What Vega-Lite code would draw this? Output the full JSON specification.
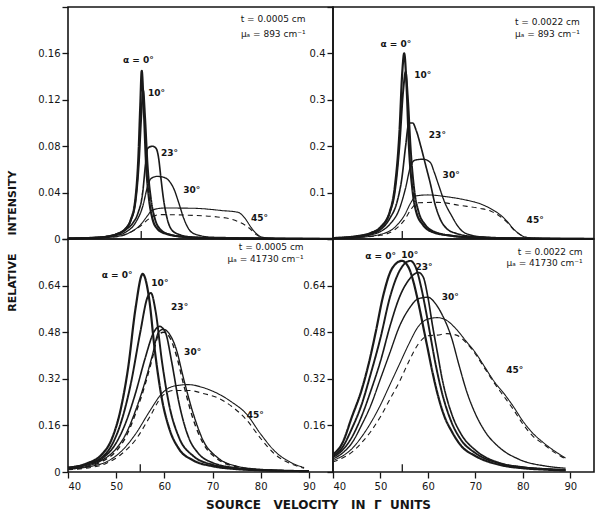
{
"$schema": "https://vega.github.io/schema/vega-lite/v6.json",
"padding": {"left": 5, "top": 1, "right": 2, "bottom": 3},
"background": "white",
"config": {
  "view": {"stroke": "#151515", "strokeWidth": 1.6},
  "axis": {"labelFont": "DejaVu Sans", "labelFontSize": 10, "labelColor": "#151515", "tickColor": "#151515", "tickWidth": 1.3, "tickSize": 6, "domain": false, "grid": false, "labelOverlap": false, "labelPadding": 2, "titleFont": "DejaVu Sans", "titleFontWeight": "bold", "titleFontSize": 11, "titleColor": "#151515"},
  "text": {"font": "DejaVu Sans", "color": "#151515"}
},
"title": {"text": "SOURCE\u00a0\u00a0 VELOCITY\u00a0\u00a0 IN\u00a0 Γ\u00a0 UNITS", "orient": "bottom", "anchor": "middle", "font": "DejaVu Sans", "fontSize": 12, "fontWeight": "bold", "color": "#151515", "offset": 8, "dx": 16},
"datasets": {
"curves": [
{"panel":"A","angle":"0","kind":"solid","v":40,"i":0.0005},{"panel":"A","angle":"0","kind":"solid","v":45,"i":0.001},{"panel":"A","angle":"0","kind":"solid","v":48,"i":0.002},{"panel":"A","angle":"0","kind":"solid","v":50,"i":0.004},{"panel":"A","angle":"0","kind":"solid","v":52,"i":0.009},{"panel":"A","angle":"0","kind":"solid","v":53,"i":0.016},{"panel":"A","angle":"0","kind":"solid","v":54,"i":0.035},{"panel":"A","angle":"0","kind":"solid","v":54.6,"i":0.07},{"panel":"A","angle":"0","kind":"solid","v":55,"i":0.115},{"panel":"A","angle":"0","kind":"solid","v":55.3,"i":0.145},{"panel":"A","angle":"0","kind":"solid","v":55.7,"i":0.115},{"panel":"A","angle":"0","kind":"solid","v":56.2,"i":0.065},{"panel":"A","angle":"0","kind":"solid","v":56.8,"i":0.035},{"panel":"A","angle":"0","kind":"solid","v":57.5,"i":0.018},{"panel":"A","angle":"0","kind":"solid","v":58.5,"i":0.009},{"panel":"A","angle":"0","kind":"solid","v":60,"i":0.005},{"panel":"A","angle":"0","kind":"solid","v":65,"i":0.0015},{"panel":"A","angle":"0","kind":"solid","v":70,"i":0.0008},{"panel":"A","angle":"0","kind":"solid","v":80,"i":0.0003},{"panel":"A","angle":"0","kind":"solid","v":95,"i":0.0001},
{"panel":"A","angle":"10","kind":"solid","v":40,"i":0.0005},{"panel":"A","angle":"10","kind":"solid","v":45,"i":0.001},{"panel":"A","angle":"10","kind":"solid","v":48,"i":0.002},{"panel":"A","angle":"10","kind":"solid","v":50,"i":0.004},{"panel":"A","angle":"10","kind":"solid","v":52,"i":0.009},{"panel":"A","angle":"10","kind":"solid","v":53,"i":0.016},{"panel":"A","angle":"10","kind":"solid","v":54,"i":0.032},{"panel":"A","angle":"10","kind":"solid","v":54.7,"i":0.065},{"panel":"A","angle":"10","kind":"solid","v":55.2,"i":0.105},{"panel":"A","angle":"10","kind":"solid","v":55.6,"i":0.128},{"panel":"A","angle":"10","kind":"solid","v":56,"i":0.105},{"panel":"A","angle":"10","kind":"solid","v":56.5,"i":0.065},{"panel":"A","angle":"10","kind":"solid","v":57.2,"i":0.035},{"panel":"A","angle":"10","kind":"solid","v":58,"i":0.018},{"panel":"A","angle":"10","kind":"solid","v":59,"i":0.009},{"panel":"A","angle":"10","kind":"solid","v":61,"i":0.004},{"panel":"A","angle":"10","kind":"solid","v":65,"i":0.0015},{"panel":"A","angle":"10","kind":"solid","v":70,"i":0.0008},{"panel":"A","angle":"10","kind":"solid","v":95,"i":0.0001},
{"panel":"A","angle":"23","kind":"solid","v":40,"i":0.0005},{"panel":"A","angle":"23","kind":"solid","v":45,"i":0.001},{"panel":"A","angle":"23","kind":"solid","v":48,"i":0.002},{"panel":"A","angle":"23","kind":"solid","v":50,"i":0.004},{"panel":"A","angle":"23","kind":"solid","v":52,"i":0.008},{"panel":"A","angle":"23","kind":"solid","v":53.5,"i":0.014},{"panel":"A","angle":"23","kind":"solid","v":54.5,"i":0.022},{"panel":"A","angle":"23","kind":"solid","v":55.5,"i":0.04},{"panel":"A","angle":"23","kind":"solid","v":56.1,"i":0.065},{"panel":"A","angle":"23","kind":"solid","v":56.5,"i":0.078},{"panel":"A","angle":"23","kind":"solid","v":57.5,"i":0.08},{"panel":"A","angle":"23","kind":"solid","v":58.3,"i":0.078},{"panel":"A","angle":"23","kind":"solid","v":58.8,"i":0.07},{"panel":"A","angle":"23","kind":"solid","v":59.3,"i":0.052},{"panel":"A","angle":"23","kind":"solid","v":59.8,"i":0.035},{"panel":"A","angle":"23","kind":"solid","v":60.5,"i":0.019},{"panel":"A","angle":"23","kind":"solid","v":61.5,"i":0.008},{"panel":"A","angle":"23","kind":"solid","v":63,"i":0.004},{"panel":"A","angle":"23","kind":"solid","v":66,"i":0.0015},{"panel":"A","angle":"23","kind":"solid","v":70,"i":0.0008},{"panel":"A","angle":"23","kind":"solid","v":95,"i":0.0001},
{"panel":"A","angle":"30","kind":"solid","v":40,"i":0.0005},{"panel":"A","angle":"30","kind":"solid","v":45,"i":0.001},{"panel":"A","angle":"30","kind":"solid","v":50,"i":0.003},{"panel":"A","angle":"30","kind":"solid","v":52,"i":0.006},{"panel":"A","angle":"30","kind":"solid","v":54,"i":0.014},{"panel":"A","angle":"30","kind":"solid","v":55.5,"i":0.028},{"panel":"A","angle":"30","kind":"solid","v":56.5,"i":0.045},{"panel":"A","angle":"30","kind":"solid","v":57.2,"i":0.052},{"panel":"A","angle":"30","kind":"solid","v":58.5,"i":0.054},{"panel":"A","angle":"30","kind":"solid","v":60,"i":0.053},{"panel":"A","angle":"30","kind":"solid","v":61,"i":0.05},{"panel":"A","angle":"30","kind":"solid","v":62,"i":0.043},{"panel":"A","angle":"30","kind":"solid","v":63,"i":0.031},{"panel":"A","angle":"30","kind":"solid","v":64,"i":0.018},{"panel":"A","angle":"30","kind":"solid","v":65,"i":0.009},{"panel":"A","angle":"30","kind":"solid","v":66.5,"i":0.004},{"panel":"A","angle":"30","kind":"solid","v":70,"i":0.0015},{"panel":"A","angle":"30","kind":"solid","v":95,"i":0.0002},
{"panel":"A","angle":"45","kind":"solid","v":40,"i":0.0003},{"panel":"A","angle":"45","kind":"solid","v":45,"i":0.0008},{"panel":"A","angle":"45","kind":"solid","v":50,"i":0.002},{"panel":"A","angle":"45","kind":"solid","v":53,"i":0.006},{"panel":"A","angle":"45","kind":"solid","v":55,"i":0.012},{"panel":"A","angle":"45","kind":"solid","v":56.5,"i":0.02},{"panel":"A","angle":"45","kind":"solid","v":57.5,"i":0.025},{"panel":"A","angle":"45","kind":"solid","v":60,"i":0.0267},{"panel":"A","angle":"45","kind":"solid","v":66,"i":0.0265},{"panel":"A","angle":"45","kind":"solid","v":72,"i":0.0245},{"panel":"A","angle":"45","kind":"solid","v":75.3,"i":0.023},{"panel":"A","angle":"45","kind":"solid","v":76.7,"i":0.018},{"panel":"A","angle":"45","kind":"solid","v":78,"i":0.01},{"panel":"A","angle":"45","kind":"solid","v":79,"i":0.005},{"panel":"A","angle":"45","kind":"solid","v":80,"i":0.002},{"panel":"A","angle":"45","kind":"solid","v":82,"i":0.0005},{"panel":"A","angle":"45","kind":"solid","v":95,"i":0.0001},
{"panel":"A","angle":"45","kind":"dashed","v":40,"i":0.0003},{"panel":"A","angle":"45","kind":"dashed","v":50,"i":0.002},{"panel":"A","angle":"45","kind":"dashed","v":55,"i":0.011},{"panel":"A","angle":"45","kind":"dashed","v":57,"i":0.018},{"panel":"A","angle":"45","kind":"dashed","v":59,"i":0.021},{"panel":"A","angle":"45","kind":"dashed","v":65,"i":0.0205},{"panel":"A","angle":"45","kind":"dashed","v":71,"i":0.019},{"panel":"A","angle":"45","kind":"dashed","v":74,"i":0.017},{"panel":"A","angle":"45","kind":"dashed","v":75.3,"i":0.015},{"panel":"A","angle":"45","kind":"dashed","v":76.7,"i":0.012},{"panel":"A","angle":"45","kind":"dashed","v":78,"i":0.008},{"panel":"A","angle":"45","kind":"dashed","v":79,"i":0.004},{"panel":"A","angle":"45","kind":"dashed","v":80,"i":0.0017},{"panel":"A","angle":"45","kind":"dashed","v":82,"i":0.0005},{"panel":"A","angle":"45","kind":"dashed","v":95,"i":0.0001},

{"panel":"B","angle":"0","kind":"solid","v":40,"i":0.002},{"panel":"B","angle":"0","kind":"solid","v":45,"i":0.006},{"panel":"B","angle":"0","kind":"solid","v":48,"i":0.013},{"panel":"B","angle":"0","kind":"solid","v":50,"i":0.025},{"panel":"B","angle":"0","kind":"solid","v":52,"i":0.06},{"panel":"B","angle":"0","kind":"solid","v":53,"i":0.11},{"panel":"B","angle":"0","kind":"solid","v":54,"i":0.23},{"panel":"B","angle":"0","kind":"solid","v":54.6,"i":0.36},{"panel":"B","angle":"0","kind":"solid","v":55,"i":0.4},{"panel":"B","angle":"0","kind":"solid","v":55.5,"i":0.33},{"panel":"B","angle":"0","kind":"solid","v":56,"i":0.2},{"panel":"B","angle":"0","kind":"solid","v":56.7,"i":0.11},{"panel":"B","angle":"0","kind":"solid","v":57.5,"i":0.06},{"panel":"B","angle":"0","kind":"solid","v":59,"i":0.03},{"panel":"B","angle":"0","kind":"solid","v":61,"i":0.015},{"panel":"B","angle":"0","kind":"solid","v":65,"i":0.007},{"panel":"B","angle":"0","kind":"solid","v":70,"i":0.003},{"panel":"B","angle":"0","kind":"solid","v":80,"i":0.001},{"panel":"B","angle":"0","kind":"solid","v":95,"i":0.0003},
{"panel":"B","angle":"10","kind":"solid","v":40,"i":0.002},{"panel":"B","angle":"10","kind":"solid","v":45,"i":0.006},{"panel":"B","angle":"10","kind":"solid","v":48,"i":0.013},{"panel":"B","angle":"10","kind":"solid","v":50,"i":0.025},{"panel":"B","angle":"10","kind":"solid","v":52,"i":0.058},{"panel":"B","angle":"10","kind":"solid","v":53,"i":0.1},{"panel":"B","angle":"10","kind":"solid","v":54,"i":0.2},{"panel":"B","angle":"10","kind":"solid","v":54.8,"i":0.32},{"panel":"B","angle":"10","kind":"solid","v":55.3,"i":0.36},{"panel":"B","angle":"10","kind":"solid","v":55.8,"i":0.3},{"panel":"B","angle":"10","kind":"solid","v":56.4,"i":0.19},{"panel":"B","angle":"10","kind":"solid","v":57.2,"i":0.1},{"panel":"B","angle":"10","kind":"solid","v":58,"i":0.06},{"panel":"B","angle":"10","kind":"solid","v":59.5,"i":0.03},{"panel":"B","angle":"10","kind":"solid","v":61.5,"i":0.015},{"panel":"B","angle":"10","kind":"solid","v":65,"i":0.007},{"panel":"B","angle":"10","kind":"solid","v":70,"i":0.003},{"panel":"B","angle":"10","kind":"solid","v":80,"i":0.001},{"panel":"B","angle":"10","kind":"solid","v":95,"i":0.0003},
{"panel":"B","angle":"23","kind":"solid","v":40,"i":0.002},{"panel":"B","angle":"23","kind":"solid","v":45,"i":0.005},{"panel":"B","angle":"23","kind":"solid","v":48,"i":0.011},{"panel":"B","angle":"23","kind":"solid","v":50,"i":0.02},{"panel":"B","angle":"23","kind":"solid","v":52,"i":0.045},{"panel":"B","angle":"23","kind":"solid","v":53.5,"i":0.08},{"panel":"B","angle":"23","kind":"solid","v":54.5,"i":0.13},{"panel":"B","angle":"23","kind":"solid","v":55.3,"i":0.2},{"panel":"B","angle":"23","kind":"solid","v":56,"i":0.25},{"panel":"B","angle":"23","kind":"solid","v":56.8,"i":0.25},{"panel":"B","angle":"23","kind":"solid","v":57.5,"i":0.235},{"panel":"B","angle":"23","kind":"solid","v":58.5,"i":0.2},{"panel":"B","angle":"23","kind":"solid","v":59.5,"i":0.16},{"panel":"B","angle":"23","kind":"solid","v":60.5,"i":0.12},{"panel":"B","angle":"23","kind":"solid","v":61.5,"i":0.075},{"panel":"B","angle":"23","kind":"solid","v":62.5,"i":0.045},{"panel":"B","angle":"23","kind":"solid","v":64,"i":0.022},{"panel":"B","angle":"23","kind":"solid","v":66,"i":0.012},{"panel":"B","angle":"23","kind":"solid","v":70,"i":0.005},{"panel":"B","angle":"23","kind":"solid","v":80,"i":0.0015},{"panel":"B","angle":"23","kind":"solid","v":95,"i":0.0003},
{"panel":"B","angle":"30","kind":"solid","v":40,"i":0.0015},{"panel":"B","angle":"30","kind":"solid","v":45,"i":0.004},{"panel":"B","angle":"30","kind":"solid","v":48,"i":0.009},{"panel":"B","angle":"30","kind":"solid","v":50,"i":0.016},{"panel":"B","angle":"30","kind":"solid","v":52,"i":0.032},{"panel":"B","angle":"30","kind":"solid","v":54,"i":0.065},{"panel":"B","angle":"30","kind":"solid","v":55.3,"i":0.11},{"panel":"B","angle":"30","kind":"solid","v":56.3,"i":0.155},{"panel":"B","angle":"30","kind":"solid","v":57.3,"i":0.17},{"panel":"B","angle":"30","kind":"solid","v":59,"i":0.172},{"panel":"B","angle":"30","kind":"solid","v":60.5,"i":0.165},{"panel":"B","angle":"30","kind":"solid","v":61.3,"i":0.145},{"panel":"B","angle":"30","kind":"solid","v":62.3,"i":0.115},{"panel":"B","angle":"30","kind":"solid","v":63.5,"i":0.08},{"panel":"B","angle":"30","kind":"solid","v":65,"i":0.05},{"panel":"B","angle":"30","kind":"solid","v":66.5,"i":0.025},{"panel":"B","angle":"30","kind":"solid","v":68,"i":0.012},{"panel":"B","angle":"30","kind":"solid","v":72,"i":0.004},{"panel":"B","angle":"30","kind":"solid","v":80,"i":0.001},{"panel":"B","angle":"30","kind":"solid","v":95,"i":0.0003},
{"panel":"B","angle":"45","kind":"solid","v":40,"i":0.001},{"panel":"B","angle":"45","kind":"solid","v":45,"i":0.003},{"panel":"B","angle":"45","kind":"solid","v":50,"i":0.01},{"panel":"B","angle":"45","kind":"solid","v":53,"i":0.025},{"panel":"B","angle":"45","kind":"solid","v":55,"i":0.05},{"panel":"B","angle":"45","kind":"solid","v":56.5,"i":0.08},{"panel":"B","angle":"45","kind":"solid","v":57.5,"i":0.093},{"panel":"B","angle":"45","kind":"solid","v":60,"i":0.095},{"panel":"B","angle":"45","kind":"solid","v":64,"i":0.091},{"panel":"B","angle":"45","kind":"solid","v":68,"i":0.084},{"panel":"B","angle":"45","kind":"solid","v":71,"i":0.076},{"panel":"B","angle":"45","kind":"solid","v":73.3,"i":0.065},{"panel":"B","angle":"45","kind":"solid","v":75,"i":0.054},{"panel":"B","angle":"45","kind":"solid","v":76.7,"i":0.038},{"panel":"B","angle":"45","kind":"solid","v":78,"i":0.022},{"panel":"B","angle":"45","kind":"solid","v":79.5,"i":0.009},{"panel":"B","angle":"45","kind":"solid","v":81,"i":0.003},{"panel":"B","angle":"45","kind":"solid","v":85,"i":0.001},{"panel":"B","angle":"45","kind":"solid","v":95,"i":0.0003},
{"panel":"B","angle":"45","kind":"dashed","v":40,"i":0.001},{"panel":"B","angle":"45","kind":"dashed","v":50,"i":0.008},{"panel":"B","angle":"45","kind":"dashed","v":53,"i":0.02},{"panel":"B","angle":"45","kind":"dashed","v":55,"i":0.04},{"panel":"B","angle":"45","kind":"dashed","v":56.5,"i":0.065},{"panel":"B","angle":"45","kind":"dashed","v":58,"i":0.078},{"panel":"B","angle":"45","kind":"dashed","v":62,"i":0.079},{"panel":"B","angle":"45","kind":"dashed","v":67,"i":0.072},{"panel":"B","angle":"45","kind":"dashed","v":71,"i":0.066},{"panel":"B","angle":"45","kind":"dashed","v":73.3,"i":0.06},{"panel":"B","angle":"45","kind":"dashed","v":75,"i":0.05},{"panel":"B","angle":"45","kind":"dashed","v":76.7,"i":0.036},{"panel":"B","angle":"45","kind":"dashed","v":78,"i":0.021},{"panel":"B","angle":"45","kind":"dashed","v":79.5,"i":0.009},{"panel":"B","angle":"45","kind":"dashed","v":81,"i":0.003},{"panel":"B","angle":"45","kind":"dashed","v":85,"i":0.001},{"panel":"B","angle":"45","kind":"dashed","v":95,"i":0.0003},

{"panel":"C","angle":"0","kind":"solid","v":40,"i":0.015},{"panel":"C","angle":"0","kind":"solid","v":44,"i":0.03},{"panel":"C","angle":"0","kind":"solid","v":47,"i":0.06},{"panel":"C","angle":"0","kind":"solid","v":49,"i":0.11},{"panel":"C","angle":"0","kind":"solid","v":51,"i":0.22},{"panel":"C","angle":"0","kind":"solid","v":52.5,"i":0.36},{"panel":"C","angle":"0","kind":"solid","v":54,"i":0.56},{"panel":"C","angle":"0","kind":"solid","v":55.5,"i":0.68},{"panel":"C","angle":"0","kind":"solid","v":56.8,"i":0.6},{"panel":"C","angle":"0","kind":"solid","v":58,"i":0.42},{"panel":"C","angle":"0","kind":"solid","v":59.5,"i":0.25},{"panel":"C","angle":"0","kind":"solid","v":61,"i":0.15},{"panel":"C","angle":"0","kind":"solid","v":63,"i":0.08},{"panel":"C","angle":"0","kind":"solid","v":66,"i":0.04},{"panel":"C","angle":"0","kind":"solid","v":70,"i":0.02},{"panel":"C","angle":"0","kind":"solid","v":75,"i":0.01},{"panel":"C","angle":"0","kind":"solid","v":80,"i":0.006},{"panel":"C","angle":"0","kind":"solid","v":90,"i":0.003},
{"panel":"C","angle":"10","kind":"solid","v":40,"i":0.015},{"panel":"C","angle":"10","kind":"solid","v":44,"i":0.028},{"panel":"C","angle":"10","kind":"solid","v":47,"i":0.05},{"panel":"C","angle":"10","kind":"solid","v":49,"i":0.09},{"panel":"C","angle":"10","kind":"solid","v":51,"i":0.17},{"panel":"C","angle":"10","kind":"solid","v":53,"i":0.3},{"panel":"C","angle":"10","kind":"solid","v":55,"i":0.48},{"panel":"C","angle":"10","kind":"solid","v":56.5,"i":0.6},{"panel":"C","angle":"10","kind":"solid","v":57.2,"i":0.615},{"panel":"C","angle":"10","kind":"solid","v":58.2,"i":0.55},{"panel":"C","angle":"10","kind":"solid","v":59.5,"i":0.38},{"panel":"C","angle":"10","kind":"solid","v":61,"i":0.23},{"panel":"C","angle":"10","kind":"solid","v":63,"i":0.12},{"panel":"C","angle":"10","kind":"solid","v":66,"i":0.055},{"panel":"C","angle":"10","kind":"solid","v":70,"i":0.025},{"panel":"C","angle":"10","kind":"solid","v":75,"i":0.012},{"panel":"C","angle":"10","kind":"solid","v":80,"i":0.006},{"panel":"C","angle":"10","kind":"solid","v":90,"i":0.003},
{"panel":"C","angle":"23","kind":"solid","v":40,"i":0.012},{"panel":"C","angle":"23","kind":"solid","v":44,"i":0.024},{"panel":"C","angle":"23","kind":"solid","v":47,"i":0.045},{"panel":"C","angle":"23","kind":"solid","v":50,"i":0.1},{"panel":"C","angle":"23","kind":"solid","v":52,"i":0.17},{"panel":"C","angle":"23","kind":"solid","v":54,"i":0.27},{"panel":"C","angle":"23","kind":"solid","v":56,"i":0.39},{"panel":"C","angle":"23","kind":"solid","v":57.8,"i":0.48},{"panel":"C","angle":"23","kind":"solid","v":59,"i":0.5},{"panel":"C","angle":"23","kind":"solid","v":60.2,"i":0.48},{"panel":"C","angle":"23","kind":"solid","v":61.5,"i":0.38},{"panel":"C","angle":"23","kind":"solid","v":63,"i":0.24},{"panel":"C","angle":"23","kind":"solid","v":65,"i":0.12},{"panel":"C","angle":"23","kind":"solid","v":67,"i":0.065},{"panel":"C","angle":"23","kind":"solid","v":70,"i":0.032},{"panel":"C","angle":"23","kind":"solid","v":75,"i":0.014},{"panel":"C","angle":"23","kind":"solid","v":80,"i":0.007},{"panel":"C","angle":"23","kind":"solid","v":90,"i":0.003},
{"panel":"C","angle":"30","kind":"solid","v":40,"i":0.01},{"panel":"C","angle":"30","kind":"solid","v":44,"i":0.02},{"panel":"C","angle":"30","kind":"solid","v":47,"i":0.04},{"panel":"C","angle":"30","kind":"solid","v":50,"i":0.08},{"panel":"C","angle":"30","kind":"solid","v":52,"i":0.13},{"panel":"C","angle":"30","kind":"solid","v":54,"i":0.21},{"panel":"C","angle":"30","kind":"solid","v":56,"i":0.31},{"panel":"C","angle":"30","kind":"solid","v":57.5,"i":0.4},{"panel":"C","angle":"30","kind":"solid","v":58.8,"i":0.48},{"panel":"C","angle":"30","kind":"solid","v":59.8,"i":0.49},{"panel":"C","angle":"30","kind":"solid","v":61,"i":0.475},{"panel":"C","angle":"30","kind":"solid","v":62.5,"i":0.42},{"panel":"C","angle":"30","kind":"solid","v":64,"i":0.32},{"panel":"C","angle":"30","kind":"solid","v":66,"i":0.2},{"panel":"C","angle":"30","kind":"solid","v":68,"i":0.11},{"panel":"C","angle":"30","kind":"solid","v":71,"i":0.05},{"panel":"C","angle":"30","kind":"solid","v":75,"i":0.02},{"panel":"C","angle":"30","kind":"solid","v":80,"i":0.009},{"panel":"C","angle":"30","kind":"solid","v":90,"i":0.003},
{"panel":"C","angle":"30","kind":"dashed","v":40,"i":0.009},{"panel":"C","angle":"30","kind":"dashed","v":44,"i":0.018},{"panel":"C","angle":"30","kind":"dashed","v":47,"i":0.036},{"panel":"C","angle":"30","kind":"dashed","v":50,"i":0.072},{"panel":"C","angle":"30","kind":"dashed","v":52,"i":0.12},{"panel":"C","angle":"30","kind":"dashed","v":54,"i":0.2},{"panel":"C","angle":"30","kind":"dashed","v":56,"i":0.3},{"panel":"C","angle":"30","kind":"dashed","v":57.5,"i":0.39},{"panel":"C","angle":"30","kind":"dashed","v":58.8,"i":0.47},{"panel":"C","angle":"30","kind":"dashed","v":59.8,"i":0.48},{"panel":"C","angle":"30","kind":"dashed","v":61,"i":0.465},{"panel":"C","angle":"30","kind":"dashed","v":62.5,"i":0.4},{"panel":"C","angle":"30","kind":"dashed","v":64,"i":0.3},{"panel":"C","angle":"30","kind":"dashed","v":66,"i":0.18},{"panel":"C","angle":"30","kind":"dashed","v":68,"i":0.1},{"panel":"C","angle":"30","kind":"dashed","v":71,"i":0.045},{"panel":"C","angle":"30","kind":"dashed","v":75,"i":0.018},{"panel":"C","angle":"30","kind":"dashed","v":80,"i":0.008},{"panel":"C","angle":"30","kind":"dashed","v":90,"i":0.003},
{"panel":"C","angle":"45","kind":"solid","v":40,"i":0.01},{"panel":"C","angle":"45","kind":"solid","v":45,"i":0.02},{"panel":"C","angle":"45","kind":"solid","v":48,"i":0.035},{"panel":"C","angle":"45","kind":"solid","v":51,"i":0.07},{"panel":"C","angle":"45","kind":"solid","v":54,"i":0.13},{"panel":"C","angle":"45","kind":"solid","v":57,"i":0.21},{"panel":"C","angle":"45","kind":"solid","v":59.5,"i":0.27},{"panel":"C","angle":"45","kind":"solid","v":62,"i":0.295},{"panel":"C","angle":"45","kind":"solid","v":65,"i":0.3},{"panel":"C","angle":"45","kind":"solid","v":68,"i":0.29},{"panel":"C","angle":"45","kind":"solid","v":71,"i":0.27},{"panel":"C","angle":"45","kind":"solid","v":74,"i":0.24},{"panel":"C","angle":"45","kind":"solid","v":77,"i":0.2},{"panel":"C","angle":"45","kind":"solid","v":80,"i":0.13},{"panel":"C","angle":"45","kind":"solid","v":83,"i":0.07},{"panel":"C","angle":"45","kind":"solid","v":86,"i":0.035},{"panel":"C","angle":"45","kind":"solid","v":89,"i":0.015},
{"panel":"C","angle":"45","kind":"dashed","v":40,"i":0.008},{"panel":"C","angle":"45","kind":"dashed","v":45,"i":0.016},{"panel":"C","angle":"45","kind":"dashed","v":48,"i":0.03},{"panel":"C","angle":"45","kind":"dashed","v":51,"i":0.06},{"panel":"C","angle":"45","kind":"dashed","v":54,"i":0.11},{"panel":"C","angle":"45","kind":"dashed","v":57,"i":0.19},{"panel":"C","angle":"45","kind":"dashed","v":59.5,"i":0.26},{"panel":"C","angle":"45","kind":"dashed","v":62,"i":0.28},{"panel":"C","angle":"45","kind":"dashed","v":65,"i":0.28},{"panel":"C","angle":"45","kind":"dashed","v":68,"i":0.27},{"panel":"C","angle":"45","kind":"dashed","v":71,"i":0.255},{"panel":"C","angle":"45","kind":"dashed","v":74,"i":0.225},{"panel":"C","angle":"45","kind":"dashed","v":77,"i":0.18},{"panel":"C","angle":"45","kind":"dashed","v":80,"i":0.115},{"panel":"C","angle":"45","kind":"dashed","v":83,"i":0.06},{"panel":"C","angle":"45","kind":"dashed","v":86,"i":0.03},{"panel":"C","angle":"45","kind":"dashed","v":89,"i":0.013},

{"panel":"D","angle":"0","kind":"solid","v":40,"i":0.06},{"panel":"D","angle":"0","kind":"solid","v":42,"i":0.1},{"panel":"D","angle":"0","kind":"solid","v":44,"i":0.19},{"panel":"D","angle":"0","kind":"solid","v":46,"i":0.28},{"panel":"D","angle":"0","kind":"solid","v":47.5,"i":0.37},{"panel":"D","angle":"0","kind":"solid","v":49,"i":0.48},{"panel":"D","angle":"0","kind":"solid","v":50.5,"i":0.6},{"panel":"D","angle":"0","kind":"solid","v":52.5,"i":0.7},{"panel":"D","angle":"0","kind":"solid","v":54.5,"i":0.725},{"panel":"D","angle":"0","kind":"solid","v":56,"i":0.7},{"panel":"D","angle":"0","kind":"solid","v":57,"i":0.65},{"panel":"D","angle":"0","kind":"solid","v":58,"i":0.58},{"panel":"D","angle":"0","kind":"solid","v":59,"i":0.5},{"panel":"D","angle":"0","kind":"solid","v":60,"i":0.42},{"panel":"D","angle":"0","kind":"solid","v":61,"i":0.34},{"panel":"D","angle":"0","kind":"solid","v":62,"i":0.27},{"panel":"D","angle":"0","kind":"solid","v":63.5,"i":0.19},{"panel":"D","angle":"0","kind":"solid","v":65,"i":0.14},{"panel":"D","angle":"0","kind":"solid","v":67,"i":0.09},{"panel":"D","angle":"0","kind":"solid","v":70,"i":0.055},{"panel":"D","angle":"0","kind":"solid","v":75,"i":0.025},{"panel":"D","angle":"0","kind":"solid","v":80,"i":0.013},{"panel":"D","angle":"0","kind":"solid","v":85,"i":0.008},{"panel":"D","angle":"0","kind":"solid","v":89,"i":0.005},
{"panel":"D","angle":"10","kind":"solid","v":40,"i":0.055},{"panel":"D","angle":"10","kind":"solid","v":42,"i":0.085},{"panel":"D","angle":"10","kind":"solid","v":44,"i":0.15},{"panel":"D","angle":"10","kind":"solid","v":46,"i":0.23},{"panel":"D","angle":"10","kind":"solid","v":48,"i":0.34},{"panel":"D","angle":"10","kind":"solid","v":50,"i":0.46},{"panel":"D","angle":"10","kind":"solid","v":52,"i":0.6},{"panel":"D","angle":"10","kind":"solid","v":54,"i":0.69},{"panel":"D","angle":"10","kind":"solid","v":56.3,"i":0.725},{"panel":"D","angle":"10","kind":"solid","v":57.5,"i":0.7},{"panel":"D","angle":"10","kind":"solid","v":58.5,"i":0.64},{"panel":"D","angle":"10","kind":"solid","v":59.5,"i":0.56},{"panel":"D","angle":"10","kind":"solid","v":60.5,"i":0.47},{"panel":"D","angle":"10","kind":"solid","v":61.5,"i":0.38},{"panel":"D","angle":"10","kind":"solid","v":63,"i":0.27},{"panel":"D","angle":"10","kind":"solid","v":65,"i":0.17},{"panel":"D","angle":"10","kind":"solid","v":67,"i":0.11},{"panel":"D","angle":"10","kind":"solid","v":70,"i":0.065},{"panel":"D","angle":"10","kind":"solid","v":75,"i":0.03},{"panel":"D","angle":"10","kind":"solid","v":80,"i":0.016},{"panel":"D","angle":"10","kind":"solid","v":85,"i":0.01},{"panel":"D","angle":"10","kind":"solid","v":89,"i":0.007},
{"panel":"D","angle":"23","kind":"solid","v":40,"i":0.05},{"panel":"D","angle":"23","kind":"solid","v":42,"i":0.075},{"panel":"D","angle":"23","kind":"solid","v":44,"i":0.12},{"panel":"D","angle":"23","kind":"solid","v":46,"i":0.19},{"panel":"D","angle":"23","kind":"solid","v":48,"i":0.28},{"panel":"D","angle":"23","kind":"solid","v":50,"i":0.38},{"panel":"D","angle":"23","kind":"solid","v":52,"i":0.5},{"panel":"D","angle":"23","kind":"solid","v":54,"i":0.6},{"panel":"D","angle":"23","kind":"solid","v":56,"i":0.66},{"panel":"D","angle":"23","kind":"solid","v":58,"i":0.685},{"panel":"D","angle":"23","kind":"solid","v":59,"i":0.67},{"panel":"D","angle":"23","kind":"solid","v":60,"i":0.6},{"panel":"D","angle":"23","kind":"solid","v":61,"i":0.5},{"panel":"D","angle":"23","kind":"solid","v":62,"i":0.41},{"panel":"D","angle":"23","kind":"solid","v":63,"i":0.32},{"panel":"D","angle":"23","kind":"solid","v":65,"i":0.2},{"panel":"D","angle":"23","kind":"solid","v":67,"i":0.13},{"panel":"D","angle":"23","kind":"solid","v":70,"i":0.075},{"panel":"D","angle":"23","kind":"solid","v":75,"i":0.032},{"panel":"D","angle":"23","kind":"solid","v":80,"i":0.017},{"panel":"D","angle":"23","kind":"solid","v":85,"i":0.01},{"panel":"D","angle":"23","kind":"solid","v":89,"i":0.007},
{"panel":"D","angle":"30","kind":"solid","v":40,"i":0.045},{"panel":"D","angle":"30","kind":"solid","v":42,"i":0.065},{"panel":"D","angle":"30","kind":"solid","v":44,"i":0.1},{"panel":"D","angle":"30","kind":"solid","v":46,"i":0.16},{"panel":"D","angle":"30","kind":"solid","v":48,"i":0.23},{"panel":"D","angle":"30","kind":"solid","v":50,"i":0.32},{"panel":"D","angle":"30","kind":"solid","v":52,"i":0.41},{"panel":"D","angle":"30","kind":"solid","v":54,"i":0.5},{"panel":"D","angle":"30","kind":"solid","v":56,"i":0.56},{"panel":"D","angle":"30","kind":"solid","v":58,"i":0.595},{"panel":"D","angle":"30","kind":"solid","v":60,"i":0.6},{"panel":"D","angle":"30","kind":"solid","v":61.5,"i":0.58},{"panel":"D","angle":"30","kind":"solid","v":63,"i":0.54},{"panel":"D","angle":"30","kind":"solid","v":65,"i":0.46},{"panel":"D","angle":"30","kind":"solid","v":66.5,"i":0.37},{"panel":"D","angle":"30","kind":"solid","v":68.3,"i":0.27},{"panel":"D","angle":"30","kind":"solid","v":70,"i":0.2},{"panel":"D","angle":"30","kind":"solid","v":72,"i":0.14},{"panel":"D","angle":"30","kind":"solid","v":75,"i":0.085},{"panel":"D","angle":"30","kind":"solid","v":79,"i":0.045},{"panel":"D","angle":"30","kind":"solid","v":85,"i":0.02},{"panel":"D","angle":"30","kind":"solid","v":89,"i":0.013},
{"panel":"D","angle":"45","kind":"solid","v":40,"i":0.04},{"panel":"D","angle":"45","kind":"solid","v":42,"i":0.055},{"panel":"D","angle":"45","kind":"solid","v":44,"i":0.08},{"panel":"D","angle":"45","kind":"solid","v":46,"i":0.12},{"panel":"D","angle":"45","kind":"solid","v":48,"i":0.17},{"panel":"D","angle":"45","kind":"solid","v":50,"i":0.23},{"panel":"D","angle":"45","kind":"solid","v":52,"i":0.3},{"panel":"D","angle":"45","kind":"solid","v":54,"i":0.37},{"panel":"D","angle":"45","kind":"solid","v":56,"i":0.44},{"panel":"D","angle":"45","kind":"solid","v":58,"i":0.5},{"panel":"D","angle":"45","kind":"solid","v":60,"i":0.525},{"panel":"D","angle":"45","kind":"solid","v":62,"i":0.53},{"panel":"D","angle":"45","kind":"solid","v":64,"i":0.52},{"panel":"D","angle":"45","kind":"solid","v":66,"i":0.49},{"panel":"D","angle":"45","kind":"solid","v":68,"i":0.45},{"panel":"D","angle":"45","kind":"solid","v":70,"i":0.41},{"panel":"D","angle":"45","kind":"solid","v":72,"i":0.36},{"panel":"D","angle":"45","kind":"solid","v":74,"i":0.31},{"panel":"D","angle":"45","kind":"solid","v":76,"i":0.27},{"panel":"D","angle":"45","kind":"solid","v":78,"i":0.225},{"panel":"D","angle":"45","kind":"solid","v":80,"i":0.175},{"panel":"D","angle":"45","kind":"solid","v":82,"i":0.135},{"panel":"D","angle":"45","kind":"solid","v":84.4,"i":0.1},{"panel":"D","angle":"45","kind":"solid","v":86,"i":0.08},{"panel":"D","angle":"45","kind":"solid","v":89,"i":0.048},
{"panel":"D","angle":"45","kind":"dashed","v":40,"i":0.035},{"panel":"D","angle":"45","kind":"dashed","v":42,"i":0.048},{"panel":"D","angle":"45","kind":"dashed","v":44,"i":0.068},{"panel":"D","angle":"45","kind":"dashed","v":46,"i":0.1},{"panel":"D","angle":"45","kind":"dashed","v":48,"i":0.14},{"panel":"D","angle":"45","kind":"dashed","v":50,"i":0.19},{"panel":"D","angle":"45","kind":"dashed","v":52,"i":0.25},{"panel":"D","angle":"45","kind":"dashed","v":54,"i":0.31},{"panel":"D","angle":"45","kind":"dashed","v":56,"i":0.38},{"panel":"D","angle":"45","kind":"dashed","v":58,"i":0.44},{"panel":"D","angle":"45","kind":"dashed","v":60,"i":0.468},{"panel":"D","angle":"45","kind":"dashed","v":62,"i":0.47},{"panel":"D","angle":"45","kind":"dashed","v":64,"i":0.475},{"panel":"D","angle":"45","kind":"dashed","v":66,"i":0.47},{"panel":"D","angle":"45","kind":"dashed","v":68,"i":0.445},{"panel":"D","angle":"45","kind":"dashed","v":70,"i":0.405},{"panel":"D","angle":"45","kind":"dashed","v":72,"i":0.355},{"panel":"D","angle":"45","kind":"dashed","v":74,"i":0.305},{"panel":"D","angle":"45","kind":"dashed","v":76,"i":0.26},{"panel":"D","angle":"45","kind":"dashed","v":78,"i":0.215},{"panel":"D","angle":"45","kind":"dashed","v":80,"i":0.165},{"panel":"D","angle":"45","kind":"dashed","v":82,"i":0.125},{"panel":"D","angle":"45","kind":"dashed","v":84.4,"i":0.095},{"panel":"D","angle":"45","kind":"dashed","v":86,"i":0.075},{"panel":"D","angle":"45","kind":"dashed","v":89,"i":0.045}
],
"markers": [
{"panel":"A","v":55.2,"i0":0,"i1":0.007},
{"panel":"B","v":54.6,"i0":0,"i1":0.017},
{"panel":"C","v":55,"i0":0,"i1":0.027},
{"panel":"D","v":54.6,"i0":0,"i1":0.027}
],
"labels": [
{"panel":"A","v":51.4,"i":0.154,"text":"α = 0°"},{"panel":"A","v":56.6,"i":0.126,"text":"10°"},{"panel":"A","v":59.3,"i":0.074,"text":"23°"},{"panel":"A","v":63.9,"i":0.042,"text":"30°"},{"panel":"A","v":78,"i":0.018,"text":"45°"},
{"panel":"B","v":50,"i":0.42,"text":"α = 0°"},{"panel":"B","v":57.1,"i":0.353,"text":"10°"},{"panel":"B","v":60.2,"i":0.224,"text":"23°"},{"panel":"B","v":63.1,"i":0.138,"text":"30°"},{"panel":"B","v":80.8,"i":0.041,"text":"45°"},
{"panel":"C","v":47,"i":0.676,"text":"α = 0°"},{"panel":"C","v":57.3,"i":0.65,"text":"10°"},{"panel":"C","v":61.4,"i":0.567,"text":"23°"},{"panel":"C","v":64.1,"i":0.412,"text":"30°"},{"panel":"C","v":77.1,"i":0.196,"text":"45°"},
{"panel":"D","v":46.8,"i":0.74,"text":"α = 0°"},{"panel":"D","v":54.4,"i":0.745,"text":"10°"},{"panel":"D","v":57.4,"i":0.704,"text":"23°"},{"panel":"D","v":62.9,"i":0.6,"text":"30°"},{"panel":"D","v":76.5,"i":0.35,"text":"45°"}
],
"notes": [
{"panel":"A","v":89.3,"i":0.19,"text":"t = 0.0005 cm"},{"panel":"A","v":89.3,"i":0.177,"text":"μₐ = 893 cm⁻¹"},
{"panel":"B","v":92,"i":0.468,"text":"t = 0.0022 cm"},{"panel":"B","v":92,"i":0.442,"text":"μₐ = 893 cm⁻¹"},
{"panel":"C","v":88.9,"i":0.773,"text":"t = 0.0005 cm"},{"panel":"C","v":88.9,"i":0.733,"text":"μₐ = 41730 cm⁻¹"},
{"panel":"D","v":92.6,"i":0.757,"text":"t = 0.0022 cm"},{"panel":"D","v":92.6,"i":0.717,"text":"μₐ = 41730 cm⁻¹"}
]
},
"columns": 2,
"spacing": 0,
"bounds": "flush",
"resolve": {"scale": {"x": "independent", "y": "independent"}},
"concat": [
{"width": 265, "height": 232,
 "layer": [
  {"data": {"name": "curves"}, "transform": [{"filter": "datum.panel == 'A'"}],
   "mark": {"type": "line", "interpolate": "monotone", "color": "#1a1a1a"},
   "encoding": {
    "x": {"field": "v", "type": "quantitative", "scale": {"domain": [40, 95], "nice": false}, "axis": null},
    "y": {"field": "i", "type": "quantitative", "scale": {"domain": [0, 0.2], "nice": false},
          "axis": {"values": [0,0.02,0.04,0.06,0.08,0.1,0.12,0.14,0.16,0.18,0.2], "labelExpr": "datum.value < 0.19 && abs(datum.value/0.04 - round(datum.value/0.04)) < 0.01 ? (datum.value == 0 ? '0' : format(datum.value, '.2f')) : ''", "title": "INTENSITY", "titleAnchor": "start", "titleAlign": "left", "titleY": 228, "titlePadding": 20}},
    "strokeWidth": {"field": "angle", "type": "nominal", "scale": {"domain": ["0","10","23","30","45"], "range": [2.2,1.1,1.5,1.2,1.2]}, "legend": null},
    "strokeDash": {"field": "kind", "type": "nominal", "scale": {"domain": ["solid","dashed"], "range": [[1,0],[5,4]]}, "legend": null},
    "order": {"field": "v", "type": "quantitative"}}},
  {"data": {"name": "markers"}, "transform": [{"filter": "datum.panel == 'A'"}],
   "mark": {"type": "rule", "color": "#1a1a1a", "strokeWidth": 1.3},
   "encoding": {"x": {"field": "v", "type": "quantitative"}, "y": {"field": "i0", "type": "quantitative"}, "y2": {"field": "i1"}}},
  {"data": {"name": "labels"}, "transform": [{"filter": "datum.panel == 'A'"}],
   "mark": {"type": "text", "align": "left", "baseline": "middle", "fontSize": 9, "fontWeight": "bold"},
   "encoding": {"x": {"field": "v", "type": "quantitative"}, "y": {"field": "i", "type": "quantitative"}, "text": {"field": "text"}}},
  {"data": {"name": "notes"}, "transform": [{"filter": "datum.panel == 'A'"}],
   "mark": {"type": "text", "align": "right", "baseline": "middle", "fontSize": 9},
   "encoding": {"x": {"field": "v", "type": "quantitative"}, "y": {"field": "i", "type": "quantitative"}, "text": {"field": "text"}}}
 ]},
{"width": 261, "height": 232,
 "layer": [
  {"data": {"name": "curves"}, "transform": [{"filter": "datum.panel == 'B'"}],
   "mark": {"type": "line", "interpolate": "monotone", "color": "#1a1a1a"},
   "encoding": {
    "x": {"field": "v", "type": "quantitative", "scale": {"domain": [40, 95], "nice": false}, "axis": null},
    "y": {"field": "i", "type": "quantitative", "scale": {"domain": [0, 0.5], "nice": false},
          "axis": {"values": [0,0.05,0.1,0.15,0.2,0.25,0.3,0.35,0.4,0.45,0.5], "labelExpr": "datum.value > 0.01 && datum.value < 0.45 && abs(datum.value*10 - round(datum.value*10)) < 0.01 ? format(datum.value, '.1f') : ''", "title": null}},
    "strokeWidth": {"field": "angle", "type": "nominal", "scale": {"domain": ["0","10","23","30","45"], "range": [2.2,1.1,1.5,1.2,1.2]}, "legend": null},
    "strokeDash": {"field": "kind", "type": "nominal", "scale": {"domain": ["solid","dashed"], "range": [[1,0],[5,4]]}, "legend": null},
    "order": {"field": "v", "type": "quantitative"}}},
  {"data": {"name": "markers"}, "transform": [{"filter": "datum.panel == 'B'"}],
   "mark": {"type": "rule", "color": "#1a1a1a", "strokeWidth": 1.3},
   "encoding": {"x": {"field": "v", "type": "quantitative"}, "y": {"field": "i0", "type": "quantitative"}, "y2": {"field": "i1"}}},
  {"data": {"name": "labels"}, "transform": [{"filter": "datum.panel == 'B'"}],
   "mark": {"type": "text", "align": "left", "baseline": "middle", "fontSize": 9, "fontWeight": "bold"},
   "encoding": {"x": {"field": "v", "type": "quantitative"}, "y": {"field": "i", "type": "quantitative"}, "text": {"field": "text"}}},
  {"data": {"name": "notes"}, "transform": [{"filter": "datum.panel == 'B'"}],
   "mark": {"type": "text", "align": "right", "baseline": "middle", "fontSize": 9},
   "encoding": {"x": {"field": "v", "type": "quantitative"}, "y": {"field": "i", "type": "quantitative"}, "text": {"field": "text"}}}
 ]},
{"width": 265, "height": 233,
 "layer": [
  {"data": {"name": "curves"}, "transform": [{"filter": "datum.panel == 'C'"}],
   "mark": {"type": "line", "interpolate": "monotone", "color": "#1a1a1a"},
   "encoding": {
    "x": {"field": "v", "type": "quantitative", "scale": {"domain": [40, 95], "nice": false},
          "axis": {"values": [40,45,50,55,60,65,70,75,80,85,90,95], "labelExpr": "datum.value % 10 == 0 ? datum.label : ''", "title": null, "labelPadding": 3}},
    "y": {"field": "i", "type": "quantitative", "scale": {"domain": [0, 0.8], "nice": false},
          "axis": {"values": [0,0.08,0.16,0.24,0.32,0.4,0.48,0.56,0.64,0.72,0.8], "labelExpr": "datum.value < 0.79 && abs(datum.value/0.16 - round(datum.value/0.16)) < 0.01 ? (datum.value == 0 ? '0' : format(datum.value, '.2f')) : ''", "title": "RELATIVE", "titleAnchor": "end", "titleAlign": "right", "titleY": 14, "titlePadding": 20}},
    "strokeWidth": {"field": "angle", "type": "nominal", "scale": {"domain": ["0","10","23","30","45"], "range": [2.2,1.1,1.5,1.2,1.2]}, "legend": null},
    "strokeDash": {"field": "kind", "type": "nominal", "scale": {"domain": ["solid","dashed"], "range": [[1,0],[5,4]]}, "legend": null},
    "order": {"field": "v", "type": "quantitative"}}},
  {"data": {"name": "markers"}, "transform": [{"filter": "datum.panel == 'C'"}],
   "mark": {"type": "rule", "color": "#1a1a1a", "strokeWidth": 1.3},
   "encoding": {"x": {"field": "v", "type": "quantitative"}, "y": {"field": "i0", "type": "quantitative"}, "y2": {"field": "i1"}}},
  {"data": {"name": "labels"}, "transform": [{"filter": "datum.panel == 'C'"}],
   "mark": {"type": "text", "align": "left", "baseline": "middle", "fontSize": 9, "fontWeight": "bold"},
   "encoding": {"x": {"field": "v", "type": "quantitative"}, "y": {"field": "i", "type": "quantitative"}, "text": {"field": "text"}}},
  {"data": {"name": "notes"}, "transform": [{"filter": "datum.panel == 'C'"}],
   "mark": {"type": "text", "align": "right", "baseline": "middle", "fontSize": 9},
   "encoding": {"x": {"field": "v", "type": "quantitative"}, "y": {"field": "i", "type": "quantitative"}, "text": {"field": "text"}}}
 ]},
{"width": 261, "height": 233,
 "layer": [
  {"data": {"name": "curves"}, "transform": [{"filter": "datum.panel == 'D'"}],
   "mark": {"type": "line", "interpolate": "monotone", "color": "#1a1a1a"},
   "encoding": {
    "x": {"field": "v", "type": "quantitative", "scale": {"domain": [40, 95], "nice": false},
          "axis": {"values": [40,45,50,55,60,65,70,75,80,85,90,95], "labelExpr": "datum.value % 10 == 0 ? datum.label : ''", "title": null, "labelPadding": 3}},
    "y": {"field": "i", "type": "quantitative", "scale": {"domain": [0, 0.8], "nice": false},
          "axis": {"values": [0,0.08,0.16,0.24,0.32,0.4,0.48,0.56,0.64,0.72,0.8], "labelExpr": "datum.value > 0.01 && datum.value < 0.79 && abs(datum.value/0.16 - round(datum.value/0.16)) < 0.01 ? format(datum.value, '.2f') : ''", "title": null}},
    "strokeWidth": {"field": "angle", "type": "nominal", "scale": {"domain": ["0","10","23","30","45"], "range": [2.2,1.1,1.5,1.2,1.2]}, "legend": null},
    "strokeDash": {"field": "kind", "type": "nominal", "scale": {"domain": ["solid","dashed"], "range": [[1,0],[5,4]]}, "legend": null},
    "order": {"field": "v", "type": "quantitative"}}},
  {"data": {"name": "markers"}, "transform": [{"filter": "datum.panel == 'D'"}],
   "mark": {"type": "rule", "color": "#1a1a1a", "strokeWidth": 1.3},
   "encoding": {"x": {"field": "v", "type": "quantitative"}, "y": {"field": "i0", "type": "quantitative"}, "y2": {"field": "i1"}}},
  {"data": {"name": "labels"}, "transform": [{"filter": "datum.panel == 'D'"}],
   "mark": {"type": "text", "align": "left", "baseline": "middle", "fontSize": 9, "fontWeight": "bold"},
   "encoding": {"x": {"field": "v", "type": "quantitative"}, "y": {"field": "i", "type": "quantitative"}, "text": {"field": "text"}}},
  {"data": {"name": "notes"}, "transform": [{"filter": "datum.panel == 'D'"}],
   "mark": {"type": "text", "align": "right", "baseline": "middle", "fontSize": 9},
   "encoding": {"x": {"field": "v", "type": "quantitative"}, "y": {"field": "i", "type": "quantitative"}, "text": {"field": "text"}}}
 ]}
]
}
